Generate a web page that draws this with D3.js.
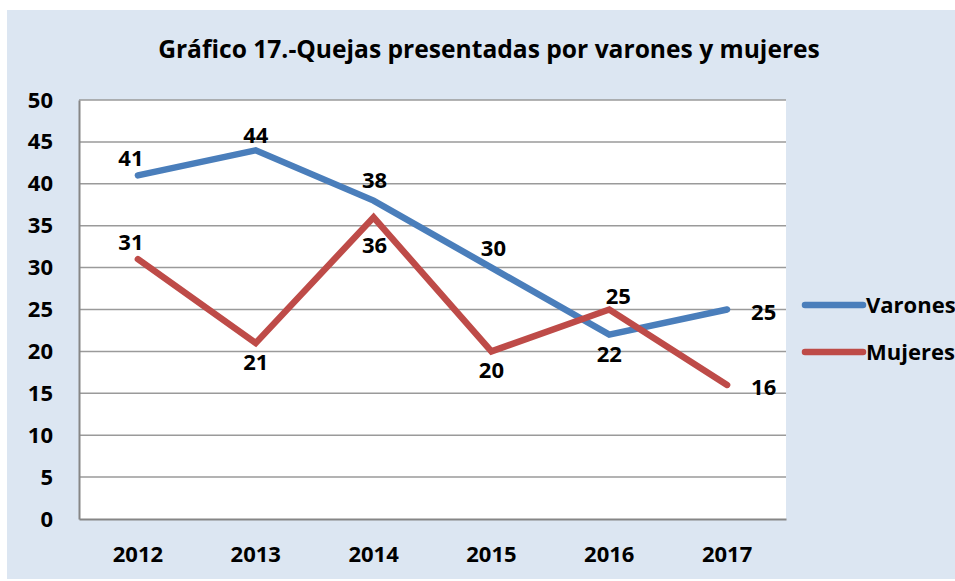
<!DOCTYPE html>
<html>
<head>
<meta charset="utf-8">
<script src="https://cdn.jsdelivr.net/npm/d3@7"></script>
<style>
  body { margin: 0; background: #ffffff; }
  text { font-family: "Open Sans", "DejaVu Sans", sans-serif; font-weight: bold; fill: #000; }
</style>
</head>
<body>
<div id="chart"></div>
<script>
// data
var years = ["2012", "2013", "2014", "2015", "2016", "2017"];
var varones = [41, 44, 38, 30, 22, 25];
var mujeres = [31, 21, 36, 20, 25, 16];
var yTicks = [0, 5, 10, 15, 20, 25, 30, 35, 40, 45, 50];
// where each data label sits relative to its point
var varonesPos = ["aboveLeft", "above", "aboveFar", "aboveRight", "below", "right"];
var mujeresPos = ["aboveLeft", "below", "belowFar", "below", "aboveRightNear", "right"];

var width = 955, height = 581;
var margin = { top: 100, right: 169, bottom: 62, left: 79 };
var plotW = width - margin.left - margin.right;
var plotH = height - margin.top - margin.bottom;

var svg = d3.select("#chart")
    .append("svg")
    .attr("width", width)
    .attr("height", height);

// chart area background
svg.append("rect")
    .attr("x", 7).attr("y", 10)
    .attr("width", width - 7).attr("height", 569)
    .attr("fill", "#dce6f2");

// title
svg.append("text")
    .attr("x", 489)
    .attr("y", 58)
    .attr("text-anchor", "middle")
    .style("font-size", "24.6px")
    .text("Gráfico 17.-Quejas presentadas por varones y mujeres");

var g = svg.append("g")
    .attr("transform", "translate(" + margin.left + "," + margin.top + ")");

g.append("rect")
    .attr("width", plotW).attr("height", plotH)
    .attr("fill", "#ffffff");

var x = d3.scaleBand()
    .domain(years)
    .range([0, plotW]);

var y = d3.scaleLinear()
    .domain([0, 50])
    .range([plotH, 0]);

// gridlines
g.selectAll(".grid")
    .data(yTicks.filter(function (d) { return d > 0; }))
    .enter()
    .append("line")
    .attr("x1", 0).attr("x2", plotW)
    .attr("y1", function (d) { return y(d); })
    .attr("y2", function (d) { return y(d); })
    .attr("stroke", "#9a9a9a")
    .attr("stroke-width", 1.5);

// y axis
var yAxis = d3.axisLeft(y).tickValues(yTicks).tickSize(0).tickPadding(26);
var yG = g.append("g").call(yAxis);
yG.select(".domain").attr("stroke", "#868686").attr("stroke-width", 2);
yG.selectAll("text").style("font-size", "22px").attr("font-family", null);

// x axis
var xAxis = d3.axisBottom(x).tickSize(0).tickPadding(27);
var xG = g.append("g")
    .attr("transform", "translate(0," + plotH + ")")
    .call(xAxis);
xG.select(".domain").attr("stroke", "#868686").attr("stroke-width", 2);
xG.selectAll("text").style("font-size", "22px").attr("font-family", null);

var line = d3.line()
    .x(function (d, i) { return x(years[i]) + x.bandwidth() / 2; })
    .y(function (d) { return y(d); });

var series = [
    { name: "Varones", values: varones, pos: varonesPos, color: "#4a7ebb" },
    { name: "Mujeres", values: mujeres, pos: mujeresPos, color: "#be4b48" }
];

series.forEach(function (s) {
    g.append("path")
        .datum(s.values)
        .attr("d", line)
        .attr("fill", "none")
        .attr("stroke", s.color)
        .attr("stroke-width", 6.5)
        .attr("stroke-linecap", "round")
        .attr("stroke-linejoin", "miter");
});

// data label placements
var offsets = {
    above: { dx: 0, dy: -7, anchor: "middle" },
    aboveFar: { dx: 1, dy: -13, anchor: "middle" },
    aboveLeft: { dx: -7, dy: -9, anchor: "middle" },
    aboveRight: { dx: 2, dy: -12, anchor: "middle" },
    aboveRightNear: { dx: 9, dy: -6, anchor: "middle" },
    below: { dx: 0, dy: 27, anchor: "middle" },
    belowFar: { dx: 1, dy: 36, anchor: "middle" },
    right: { dx: 24, dy: 10, anchor: "start" }
};

series.forEach(function (s) {
    g.selectAll(".lbl-" + s.name)
        .data(s.values)
        .enter()
        .append("text")
        .attr("x", function (d, i) { return x(years[i]) + x.bandwidth() / 2 + offsets[s.pos[i]].dx; })
        .attr("y", function (d, i) { return y(d) + offsets[s.pos[i]].dy; })
        .attr("text-anchor", function (d, i) { return offsets[s.pos[i]].anchor; })
        .style("font-size", "22px")
        .text(function (d) { return d; });
});

// legend
var legend = svg.append("g")
    .attr("transform", "translate(805,305)");
series.forEach(function (s, i) {
    var row = legend.append("g").attr("transform", "translate(0," + (i * 47) + ")");
    row.append("line")
        .attr("x1", 0).attr("x2", 58)
        .attr("stroke", s.color)
        .attr("stroke-width", 6.5)
        .attr("stroke-linecap", "round");
    row.append("text")
        .attr("x", 61)
        .attr("dy", "0.35em")
        .style("font-size", "22px")
        .text(s.name);
});
</script>
</body>
</html>
